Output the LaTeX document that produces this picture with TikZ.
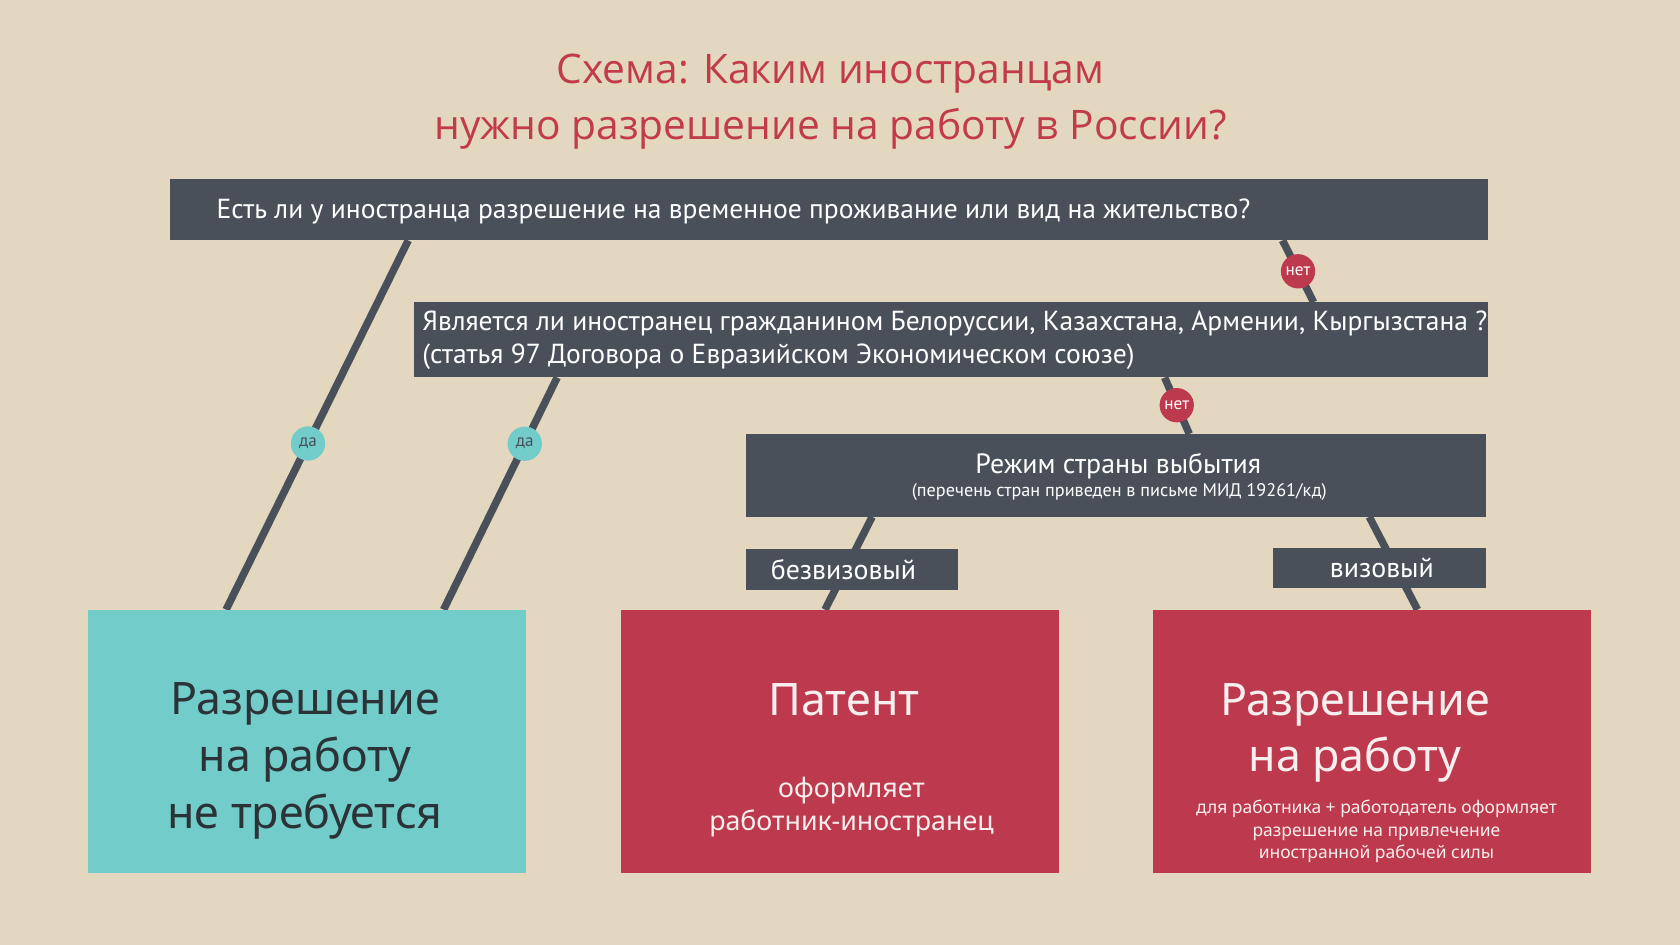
\documentclass[tikz,border=0pt]{standalone}
\usepackage{fontspec}
\setmainfont{PT Sans}
\newfontfamily\condfont[FakeStretch=1.0]{PT Sans}
\newfontfamily\titlefont{Open Sans}
\newfontfamily\boxfont{Noto Sans}
\usetikzlibrary{calc}
\definecolor{bgc}{HTML}{E3D7BF}
\definecolor{darkc}{HTML}{4A505A}
\definecolor{redc}{HTML}{BD3A4E}
\definecolor{tealc}{HTML}{72CCC9}
\definecolor{titlec}{HTML}{C13B4B}
\definecolor{tealtext}{HTML}{2C3338}
\definecolor{lighttext}{HTML}{F7EEEE}
\pgfdeclarelayer{lines}
\pgfsetlayers{lines,main}
\begin{document}
\begin{tikzpicture}[x=1pt,y=-1pt,
  darkbox/.style={fill=darkc, inner sep=0pt, anchor=north west},
  qtext/.style={text=white, inner sep=0pt, font=\condfont\fontsize{25.7}{31}\selectfont},
  lbl/.style={darkbox, text=white, font=\condfont\fontsize{26}{28}\selectfont},
  outbox/.style={minimum width=409pt, minimum height=246pt, inner sep=0pt, anchor=north west},
  bigtext/.style={inner sep=0pt, align=center, font=\boxfont\fontsize{41.8}{53}\selectfont},
  midtext/.style={inner sep=0pt, align=center, font=\boxfont\fontsize{25}{31}\selectfont},
  smalltext/.style={inner sep=0pt, align=center, font=\boxfont\fontsize{16.3}{20.7}\selectfont},
  conn/.style={draw=darkc, line width=7pt},
  nocirc/.style={circle, fill=redc, text=white, minimum size=32pt, inner sep=0pt, font=\condfont\fontsize{16}{16}\selectfont},
  dacirc/.style={circle, fill=tealc, text=darkc, minimum size=32pt, inner sep=0pt, font=\condfont\fontsize{16}{16}\selectfont},
]
\useasboundingbox (0,0) rectangle (1568,882);

% title
\node[text=titlec, font=\titlefont\fontsize{38}{52}\selectfont, align=center, inner sep=0pt] (title) at (775,95)
  {Схема: Каким иностранцам\\нужно разрешение на работу в России?};

% question boxes
\node[darkbox, minimum width=1231pt, minimum height=57pt] (q1) at (158,167) {};
\node[qtext, anchor=west] (q1t) at ($(q1.west)+(44,2)$) {Есть ли у иностранца разрешение на временное проживание или вид на жительство?};

\node[darkbox, minimum width=1003pt, minimum height=70pt] (q2) at (386,282) {};
\node[qtext, anchor=west, align=left] (q2t) at ($(q2.west)+(8,0)$) {Является ли иностранец гражданином Белоруссии, Казахстана, Армении, Кыргызстана ?\\(статья 97 Договора о Евразийском Экономическом союзе)};

\node[darkbox, minimum width=691pt, minimum height=77pt] (q3) at (696,405) {};
\node[text=white, inner sep=0pt, font=\condfont\fontsize{26}{28}\selectfont] (q3a) at ($(q3.north)+(2,30)$) {Режим страны выбытия};
\node[text=white, inner sep=0pt, font=\condfont\fontsize{17}{19}\selectfont] (q3b) at ($(q3.north)+(3,54)$) {(перечень стран приведен в письме МИД 19261/кд)};

% labels
\node[lbl, minimum width=198pt, minimum height=38pt] (bv) at (696,512) {\hspace*{-16pt}безвизовый};
\node[lbl, minimum width=199pt, minimum height=38pt] (vz) at (1188,511) {\hspace*{4pt}визовый};

% outcome boxes
\node[outbox, fill=tealc] (ok) at (82,569) {};
\node[bigtext, text=tealtext] (okt) at ($(ok.north)+(-2,141)$) {Разрешение\\на работу\\не требуется};

\node[outbox, fill=redc] (pat) at (579,569) {};
\node[bigtext, text=lighttext] (patt) at ($(pat.north)+(4,84)$) {Патент};
\node[midtext, text=lighttext] (pats) at ($(pat.north)+(11,184)$) {оформляет\\работник-иностранец};

\node[outbox, fill=redc] (rw) at (1076,569) {};
\node[bigtext, text=lighttext] (rwt) at ($(rw.north)+(-16,115)$) {Разрешение\\на работу};
\node[smalltext, text=lighttext] (rws) at ($(rw.north)+(4,207)$) {для работника + работодатель оформляет\\разрешение на привлечение\\иностранной рабочей силы};

% connectors
\begin{pgfonlayer}{lines}
\fill[bgc] (0,0) rectangle (1568,882);
\draw[conn] ($(q1.south west)+(223,0)$) -- ($(ok.north west)+(129,0)$) node[dacirc, pos=0.55] (da1) {да};
\draw[conn] ($(q2.south west)+(134,0)$) -- ($(ok.north west)+(332,0)$) node[dacirc, pos=0.285] (da2) {да};
\draw[conn] ($(q1.south west)+(1039,0)$) -- ($(q2.north west)+(840,0)$) node[nocirc, pos=0.5] (net1) {нет};
\draw[conn] ($(q2.south west)+(701,0)$) -- ($(q3.north west)+(414,0)$) node[nocirc, pos=0.49] (net2) {нет};
\draw[conn] ($(q3.south west)+(118,0)$) -- ($(pat.north west)+(191,0)$);
\draw[conn] ($(q3.south west)+(582,0)$) -- ($(rw.north west)+(247,0)$);
\end{pgfonlayer}
\end{tikzpicture}
\end{document}
